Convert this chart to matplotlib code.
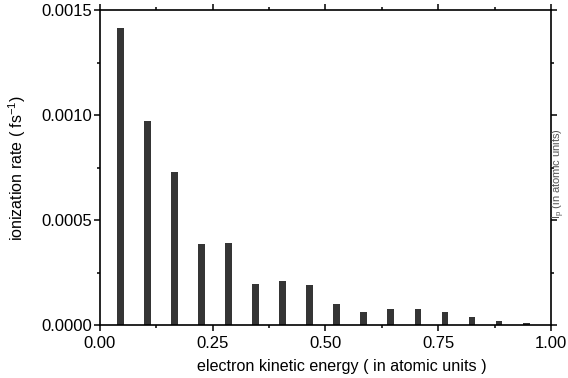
import matplotlib
matplotlib.use('Agg')
import matplotlib.pyplot as plt
from matplotlib.ticker import MultipleLocator, FormatStrFormatter

plt.rcParams['font.family'] = ['Liberation Sans', 'DejaVu Sans']

# electron kinetic energy (a.u.) and ionization rate (fs^-1)
energy = [0.045, 0.105, 0.165, 0.225, 0.285, 0.345, 0.405, 0.465,
          0.525, 0.585, 0.645, 0.705, 0.765, 0.825, 0.885, 0.945]
rate = [0.001413, 0.000973, 0.000727, 0.000384, 0.000392, 0.000194,
        0.000208, 0.000190, 0.000100, 0.000063, 0.000075, 0.000078,
        0.000060, 0.000037, 0.000019, 0.000011]

fig = plt.figure(figsize=(5.68, 3.78), dpi=100)
ax = fig.add_axes([0.176, 0.140, 0.794, 0.8335])

ax.bar(energy, rate, width=0.015, color='#353535')

ax.set_xlim(0, 1.0)
ax.set_ylim(0, 0.0015)
ax.xaxis.set_major_locator(MultipleLocator(0.25))
ax.xaxis.set_minor_locator(MultipleLocator(0.125))
ax.yaxis.set_major_locator(MultipleLocator(0.0005))
ax.yaxis.set_minor_locator(MultipleLocator(0.00025))
ax.xaxis.set_major_formatter(FormatStrFormatter('%.2f'))
ax.yaxis.set_major_formatter(FormatStrFormatter('%.4f'))

ax.tick_params(which='both', direction='out', top=True, right=True,
               labeltop=False, labelright=False, labelsize=12, width=1.1)
ax.tick_params(which='major', length=4, pad=2)
ax.tick_params(axis='x', which='major', pad=4)
ax.tick_params(which='minor', length=2.5)
for s in ax.spines.values():
    s.set_linewidth(1.2)

ax.set_xlabel('electron kinetic energy ( in atomic units )', fontsize=11.6)
ax.xaxis.set_label_coords(0.537, -0.107)
ax.set_ylabel('ionization rate ( fs$^{\\mathregular{-1}}$)', fontsize=11.5, labelpad=9)
fig.text(0.983, 0.54, 'I$_\\mathregular{p}$ (in atomic units)', rotation=90,
         ha='center', va='center', fontsize=8, color='#555555')

fig.savefig('out.png', dpi=100)
